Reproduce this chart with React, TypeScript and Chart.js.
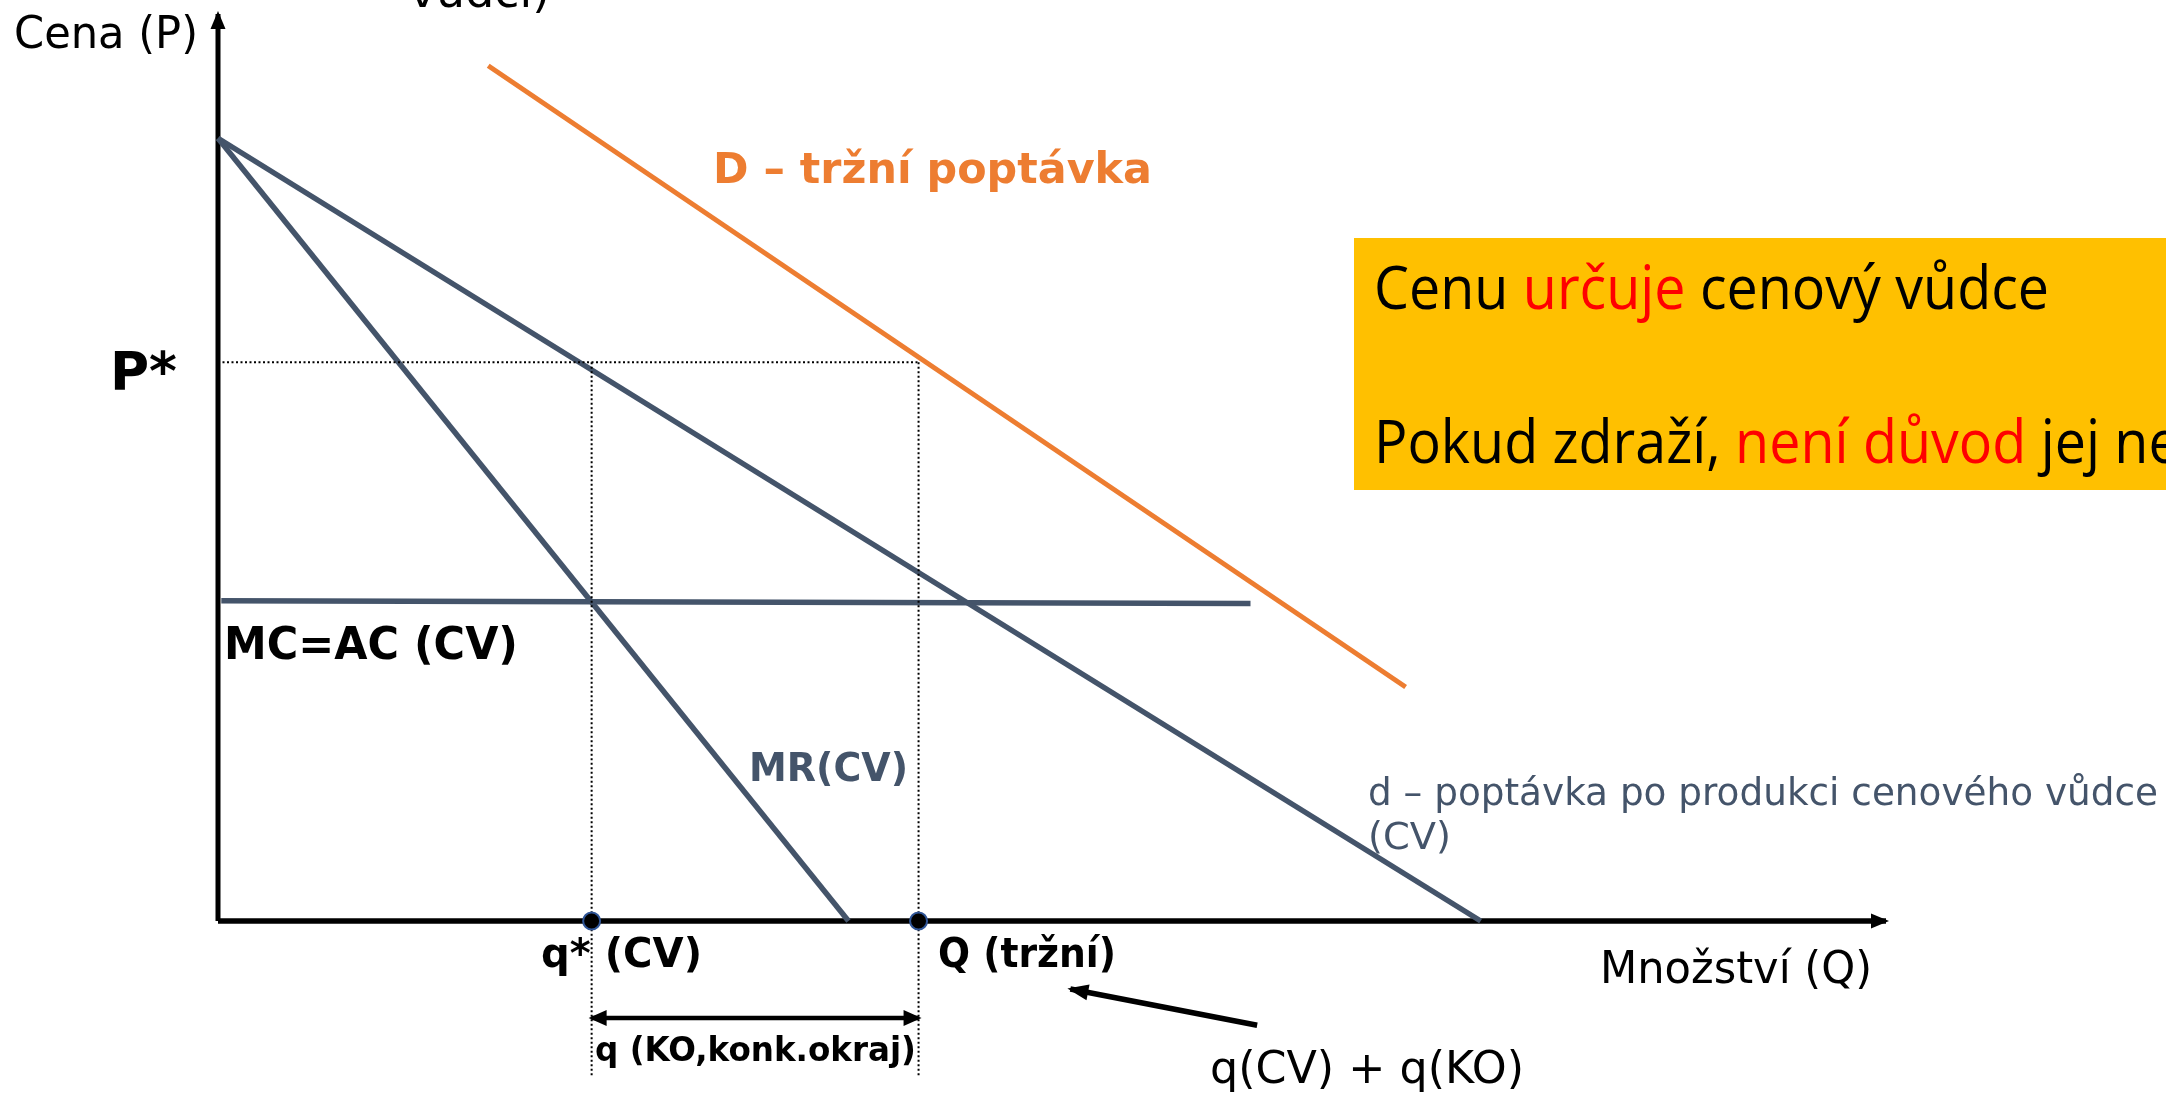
import React, { useEffect, useRef } from "react";
import { Chart, registerables } from "chart.js";

Chart.register(...registerables);

// ---- data (economic units: quantity 0..100, price 0..100) ----
const QUANTITY_MAX = 100;
const PRICE_MAX = 100;
const leaderDemand = [
  { x: 0, y: 86.3 },
  { x: 75.7, y: 0 },
];
const leaderMR = [
  { x: 0, y: 86.3 },
  { x: 37.8, y: 0 },
];
const marketDemand = [
  { x: 16.2, y: 94.3 },
  { x: 71.2, y: 25.8 },
];
const leaderMC = [
  { x: 0.2, y: 35.3 },
  { x: 61.9, y: 35.0 },
];
const P_STAR = 61.6;
const Q_STAR = 22.4;
const Q_MARKET = 42.0;
const GUIDE_BOTTOM = -17.2;
const SPAN_Y = -10.7;
const pointerFrom = { x: 62.3, y: -11.5 };
const pointerTo = { x: 51.1, y: -7.5 };

const SLATE = "#44546A";
const ORANGE = "#ED7D31";
const YELLOW = "#FFC000";
const RED = "#FF0000";
const DV = '"DejaVu Sans", Verdana, sans-serif';
const CAL = '"Open Sans", "Liberation Sans", sans-serif';

type Part = { t: string; c: string };

function drawParts(
  ctx: CanvasRenderingContext2D,
  parts: Part[],
  x: number,
  y: number,
  font: string,
  targetWidth?: number,
  forcedScale?: number
): number {
  ctx.save();
  ctx.font = font;
  ctx.textBaseline = "alphabetic";
  ctx.textAlign = "left";
  const total = parts.reduce((s, p) => s + ctx.measureText(p.t).width, 0);
  const sx = forcedScale ?? (targetWidth ? targetWidth / total : 1);
  ctx.translate(x, y);
  ctx.scale(sx, 1);
  let cx = 0;
  for (const p of parts) {
    ctx.fillStyle = p.c;
    ctx.fillText(p.t, cx, 0);
    cx += ctx.measureText(p.t).width;
  }
  ctx.restore();
  return sx;
}

function arrowHead(
  ctx: CanvasRenderingContext2D,
  tipX: number,
  tipY: number,
  fromX: number,
  fromY: number,
  len: number,
  half: number,
  color: string
) {
  const a = Math.atan2(tipY - fromY, tipX - fromX);
  ctx.save();
  ctx.translate(tipX, tipY);
  ctx.rotate(a);
  ctx.beginPath();
  ctx.moveTo(3, 0);
  ctx.lineTo(-len, -half);
  ctx.lineTo(-len, half);
  ctx.closePath();
  ctx.fillStyle = color;
  ctx.fill();
  ctx.restore();
}

const decorPlugin = {
  id: "decor",
  beforeDatasetsDraw(chart: any) {
    const ctx: CanvasRenderingContext2D = chart.ctx;
    ctx.save();
    ctx.fillStyle = YELLOW;
    ctx.fillRect(1354, 238, 2166 - 1354, 490 - 238);
    ctx.restore();
  },
  afterDatasetsDraw(chart: any) {
    const ctx: CanvasRenderingContext2D = chart.ctx;
    const xs = chart.scales.x;
    const ys = chart.scales.y;
    const px = (v: number) => xs.getPixelForValue(v);
    const py = (v: number) => ys.getPixelForValue(v);

    // axis arrowheads
    arrowHead(ctx, px(0), py(PRICE_MAX), px(0), py(0), 15, 7.5, "#000");
    arrowHead(ctx, px(QUANTITY_MAX), py(0), px(0), py(0), 15, 7.5, "#000");
    // span arrow (both ends)
    arrowHead(ctx, px(Q_STAR), py(SPAN_Y), px(Q_MARKET), py(SPAN_Y), 15, 8, "#000");
    arrowHead(ctx, px(Q_MARKET), py(SPAN_Y), px(Q_STAR), py(SPAN_Y), 15, 8, "#000");
    // pointer arrow
    arrowHead(ctx, px(pointerTo.x), py(pointerTo.y), px(pointerFrom.x), py(pointerFrom.y), 18, 8, "#000");

    // texts
    drawParts(ctx, [{ t: "vůdci)", c: "#000" }], 409, 7, `44px ${DV}`, 141);
    drawParts(ctx, [{ t: "Cena (P)", c: "#000" }], 14, 48, `44px ${DV}`, 184);
    drawParts(ctx, [{ t: "P*", c: "#000" }], 110, 390, `bold 53px ${DV}`, 67);
    drawParts(ctx, [{ t: "MC=AC (CV)", c: "#000" }], 224, 659, `bold 45px ${DV}`, 294);
    drawParts(ctx, [{ t: "MR(CV)", c: SLATE }], 749, 781, `bold 39px ${DV}`, 159);
    drawParts(ctx, [{ t: "D – tržní poptávka", c: ORANGE }], 713, 183, `bold 43px ${DV}`, 439);
    drawParts(
      ctx,
      [{ t: "d – poptávka po produkci cenového vůdce", c: SLATE }],
      1368,
      805,
      `37px ${DV}`,
      790
    );
    drawParts(ctx, [{ t: "(CV)", c: SLATE }], 1368, 849, `37px ${DV}`, 83);
    drawParts(ctx, [{ t: "q* (CV)", c: "#000" }], 541, 967, `bold 41px ${DV}`, 161);
    drawParts(ctx, [{ t: "Q (tržní)", c: "#000" }], 938, 967, `bold 41px ${DV}`, 178);
    drawParts(ctx, [{ t: "q (KO,konk.okraj)", c: "#000" }], 595, 1061, `bold 33px ${DV}`, 321);
    drawParts(ctx, [{ t: "Množství (Q)", c: "#000" }], 1600, 983, `44px ${DV}`, 272);
    drawParts(ctx, [{ t: "q(CV) + q(KO)", c: "#000" }], 1210, 1083, `45px ${DV}`, 314);

    const s = drawParts(
      ctx,
      [
        { t: "Cenu ", c: "#000" },
        { t: "určuje", c: RED },
        { t: " cenový vůdce", c: "#000" },
      ],
      1374,
      309,
      `61px ${CAL}`,
      675
    );
    drawParts(
      ctx,
      [
        { t: "Pokud zdraží, ", c: "#000" },
        { t: "není důvod", c: RED },
        { t: " jej ne", c: "#000" },
      ],
      1374,
      463,
      `61px ${CAL}`,
      undefined,
      s
    );
  },
};

export default function App() {
  const ref = useRef<HTMLCanvasElement | null>(null);

  useEffect(() => {
    if (!ref.current) return;
    const line = (data: any[], color: string, width: number, extra: any = {}) => ({
      data,
      showLine: true,
      borderColor: color,
      borderWidth: width,
      pointRadius: 0,
      fill: false,
      clip: false,
      ...extra,
    });
    const dotted = { borderDash: [2, 2.5] };
    const chart = new Chart(ref.current, {
      type: "scatter",
      data: {
        datasets: [
          {
            data: [
              { x: Q_STAR, y: 0 },
              { x: Q_MARKET, y: 0 },
            ],
            showLine: false,
            pointRadius: 8.5,
            pointBackgroundColor: "#000",
            pointBorderColor: "#2F5597",
            pointBorderWidth: 2,
            clip: false,
          } as any,
          line(
            [
              { x: 0, y: P_STAR },
              { x: Q_MARKET, y: P_STAR },
            ],
            "#000",
            2,
            dotted
          ),
          line(
            [
              { x: Q_STAR, y: P_STAR },
              { x: Q_STAR, y: GUIDE_BOTTOM },
            ],
            "#000",
            2,
            dotted
          ),
          line(
            [
              { x: Q_MARKET, y: P_STAR },
              { x: Q_MARKET, y: GUIDE_BOTTOM },
            ],
            "#000",
            2,
            dotted
          ),
          line(leaderMR, SLATE, 5.5),
          line(leaderDemand, SLATE, 5.5),
          line(leaderMC, SLATE, 5.5),
          line(marketDemand, ORANGE, 5),
          line(
            [
              { x: Q_STAR, y: SPAN_Y },
              { x: Q_MARKET, y: SPAN_Y },
            ],
            "#000",
            4.5
          ),
          line([pointerFrom, pointerTo], "#000", 5.5),
          line(
            [
              { x: 0, y: 0 },
              { x: QUANTITY_MAX, y: 0 },
            ],
            "#000",
            5.5
          ),
          line(
            [
              { x: 0, y: 0 },
              { x: 0, y: PRICE_MAX },
            ],
            "#000",
            5
          ),
        ] as any,
      },
      options: {
        responsive: false,
        animation: false,
        layout: { padding: { left: 218, right: 280, top: 14, bottom: 172 } },
        plugins: { legend: { display: false }, tooltip: { enabled: false } },
        scales: {
          x: { type: "linear", min: 0, max: QUANTITY_MAX, display: false },
          y: { type: "linear", min: 0, max: PRICE_MAX, display: false },
        },
      } as any,
      plugins: [decorPlugin],
    });
    return () => chart.destroy();
  }, []);

  return (
    <div style={{ position: "absolute", left: 0, top: 0, width: 2166, height: 1093, background: "#fff" }}>
      <canvas ref={ref} width={2166} height={1093} style={{ display: "block" }} />
    </div>
  );
}
